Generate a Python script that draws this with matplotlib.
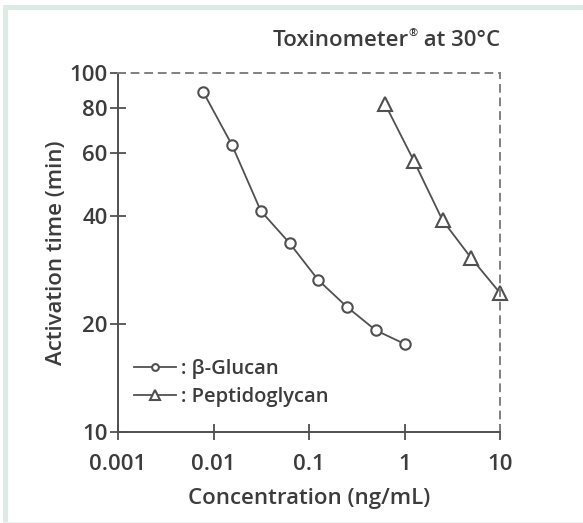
import matplotlib
matplotlib.use("Agg")
from matplotlib import pyplot as plt
from matplotlib.patches import Rectangle

plt.rcParams['font.family'] = ['Open Sans', 'DejaVu Sans']
plt.rcParams['font.weight'] = 'semibold'
plt.rcParams['axes.labelweight'] = 'semibold'

glucan_conc = [0.0078125, 0.015625, 0.03125, 0.0625, 0.125, 0.25, 0.5, 1]
glucan_time = [88.5, 63, 41.3, 33.6, 26.5, 22.3, 19.2, 17.6]
pepti_conc = [0.625, 1.25, 2.5, 5, 10]
pepti_time = [82, 57, 38.9, 30.5, 24.4]

x_ticks = [0.001, 0.01, 0.1, 1, 10]
x_labels = ['0.001', '0.01', '0.1', '1', '10']
y_ticks = [10, 20, 40, 60, 80, 100]
y_labels = ['10', '20', '40', '60', '80', '100']

ink = '#3c3c3c'
line_c = '#505050'
W, H = 583, 523

fig = plt.figure(figsize=(W / 100, H / 100), dpi=100)
# light green frame: left and top edges, faint line at the bottom
frame = '#dcebe3'
fig.patches.append(Rectangle((3 / W, 0), 5 / W, 1 - 5 / H, transform=fig.transFigure,
                             color=frame, lw=0))
fig.patches.append(Rectangle((3 / W, 1 - 10 / H), 1 - 3 / W, 5 / H, transform=fig.transFigure,
                             color=frame, lw=0))
fig.patches.append(Rectangle((3 / W, 0), 1 - 3 / W, 1.5 / H, transform=fig.transFigure,
                             color='#eef4f1', lw=0))

ax = fig.add_axes([118 / W, 1 - 432 / H, 382 / W, 359 / H])
ax.set_xscale('log')
ax.set_yscale('log')
ax.set_xlim(0.001, 10)
ax.set_ylim(10, 100)

ax.plot(glucan_conc, glucan_time, color=line_c, lw=1.3, marker='o', ms=7.5,
        mfc='white', mec=line_c, mew=1.5, label=': β-Glucan', clip_on=False)
ax.plot(pepti_conc, pepti_time, color=line_c, lw=1.3, marker='^', ms=10.5,
        mfc='white', mec=line_c, mew=1.5, label=': Peptidoglycan', clip_on=False)

ax.set_xticks(x_ticks)
ax.set_xticklabels(x_labels)
ax.set_yticks(y_ticks)
ax.set_yticklabels(y_labels)
ax.minorticks_off()
ax.tick_params(direction='inout', length=11, width=1.3, colors=line_c, labelcolor=ink,
               labelsize=16)
ax.tick_params(axis='x', pad=10)
ax.tick_params(axis='y', pad=2)

for s in ['left', 'bottom']:
    ax.spines[s].set_color(line_c)
    ax.spines[s].set_linewidth(1.4)
for s in ['top', 'right']:
    ax.spines[s].set_color('#808080')
    ax.spines[s].set_linestyle((0, (3.5, 3.5)))
    ax.spines[s].set_linewidth(1.4)

ax.set_xlabel('Concentration (ng/mL)', fontsize=16, color=ink, labelpad=10)
ax.set_ylabel('Activation time (min)', fontsize=16, color=ink, labelpad=2)

# title built in pieces so the registered mark stays small
renderer = fig.canvas.get_renderer()
ty = 1 - 40 / H
t_end = fig.text(500 / W, ty, ' at 30°C', ha='right', va='center', fontsize=16, color=ink)
bb = t_end.get_window_extent(renderer)
t_reg = fig.text(bb.x0 / W, ty + 6 / H, '®', ha='right', va='center', fontsize=8, color=ink)
bb2 = t_reg.get_window_extent(renderer)
fig.text(bb2.x0 / W, ty, 'Toxinometer', ha='right', va='center', fontsize=16, color=ink)

ax.legend(loc='lower left', bbox_to_anchor=(0.0, 0.025), frameon=False, fontsize=14.5,
          handlelength=2.1, handletextpad=0.25, labelcolor=ink, labelspacing=0.4,
          markerscale=0.65, borderpad=0.3)

fig.savefig('out.png', dpi=100)
